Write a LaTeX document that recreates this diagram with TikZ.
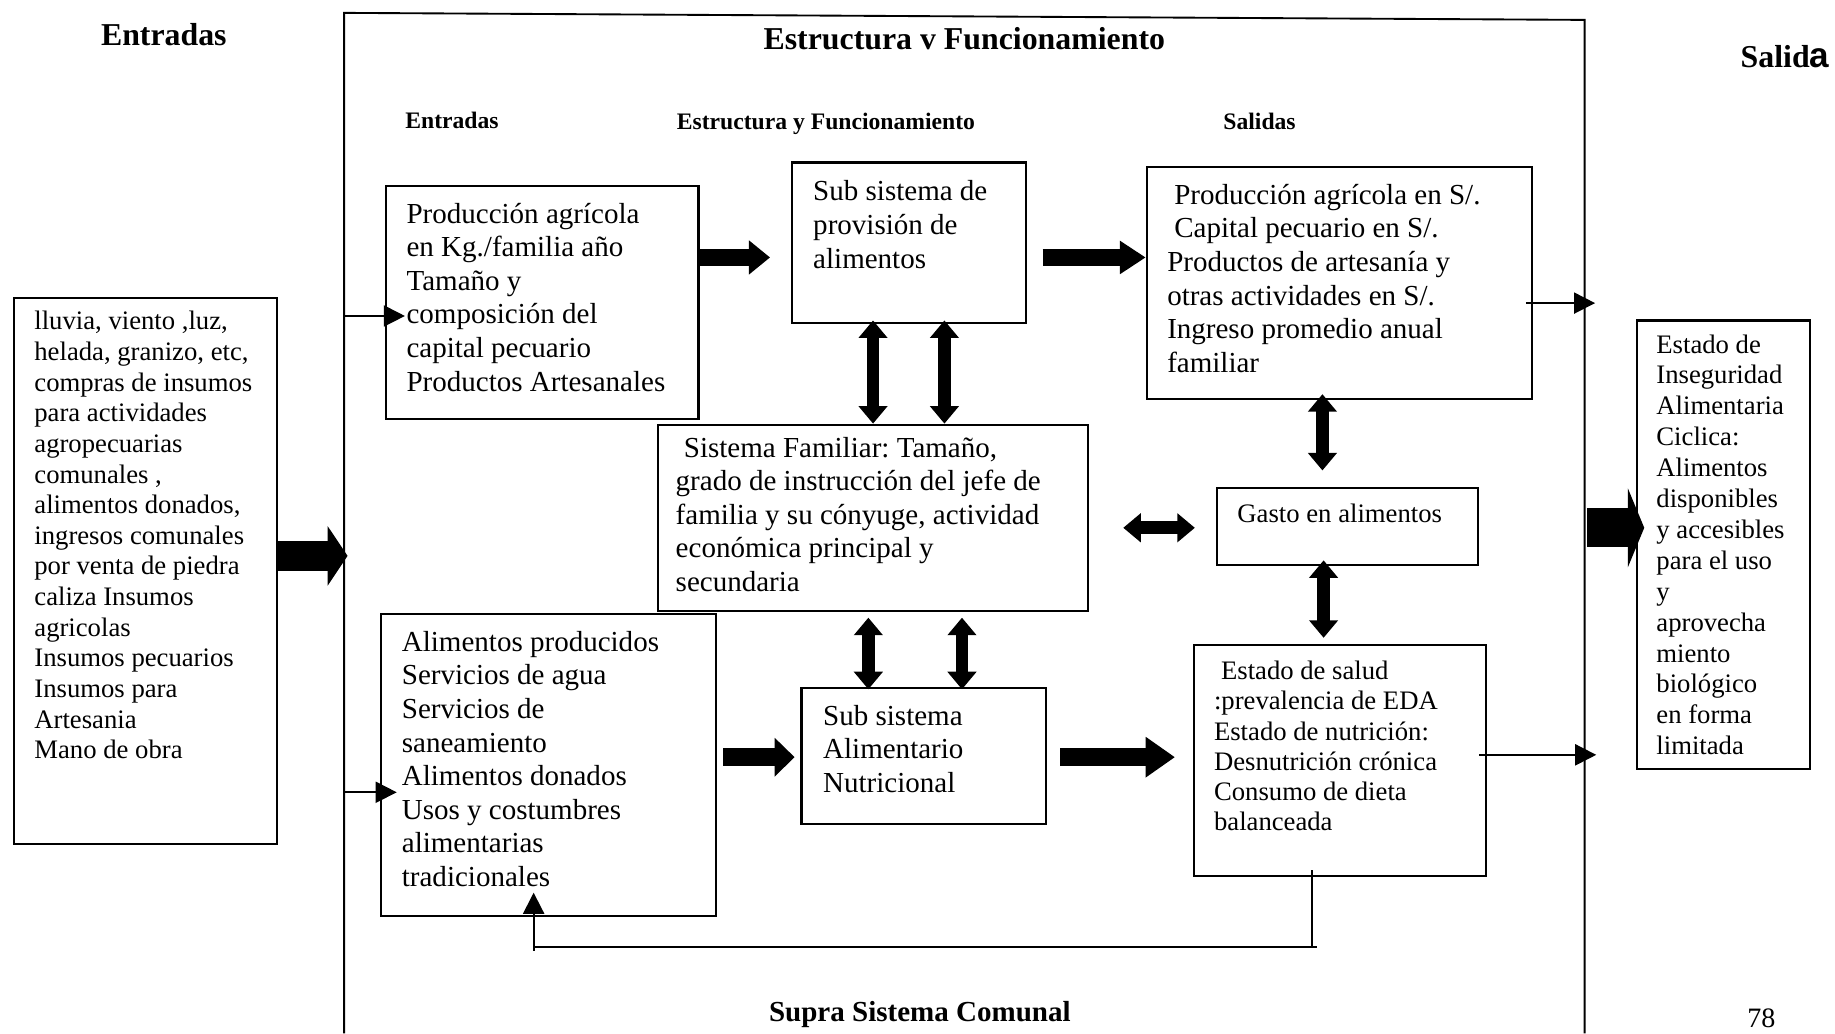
\documentclass[tikz,border=0pt]{standalone}
\usepackage{fontspec}
\setmainfont{Liberation Serif}
\newfontfamily\sansbold{Liberation Sans}
\usetikzlibrary{arrows.meta}
\frenchspacing
\begin{document}
\begin{tikzpicture}[x=0.5pt,y=-0.5pt,
  box/.style={draw, line width=0.9pt, inner sep=0pt, anchor=north west},
  txt/.style={inner sep=0pt, anchor=north west, align=left,
              font=\fontsize{12.4}{14.35}\selectfont},
  txts/.style={inner sep=0pt, anchor=north west, align=left,
               font=\fontsize{11.4}{#1}\selectfont},
  head/.style={inner sep=0pt, font=\bfseries\fontsize{13.6}{16}\selectfont},
  subhead/.style={inner sep=0pt, anchor=base west, font=\bfseries\fontsize{10.1}{12}\selectfont},
  frame/.style={line width=0.8pt},
  tarr/.style={line width=0.75pt, -{Triangle[length=9pt,width=9pt]}},
  blk/.style n args={3}{line width=#3, -{Triangle[length=#1,width=#2]}},
  dbl/.style={line width=5.5pt,
              {Triangle[length=7.5pt,width=12pt]}-{Triangle[length=7.5pt,width=12pt]}},
  fb/.style={line width=0.75pt}
]
\fill[white] (0,0) rectangle (1568,883);
\useasboundingbox (0,0) rectangle (1568,883);

% column headings
\node[head, anchor=base] (hin) at (140,39) {Entradas};
\node[head, anchor=base] (hest) at (824,42) {Estructura v Funcionamiento};
\node[head, anchor=base west] (hout) at (1487,58) {Salid{\sansbold\fontsize{15}{16}\selectfont a}};
\node[subhead] (sin) at (346,110) {Entradas};
\node[subhead] (sest) at (578,111) {Estructura y Funcionamiento};
\node[subhead] (sout) at (1045,111) {Salidas};
\node[head, anchor=base, font=\bfseries\fontsize{12.4}{15}\selectfont] (supra) at (786,873) {Supra Sistema Comunal};
\node[inner sep=0pt, anchor=base, font=\fontsize{12}{14}\selectfont] (pnum) at (1505,878) {78};

% system frame (open at the bottom)
\draw[frame] (294,883) -- (294,11) -- (1354,17) -- (1354,883);
\coordinate (fL) at (294,0);
\coordinate (fR) at (1354,0);

% boxes
\node[box, minimum width=112.5pt, minimum height=233pt] (src) at (11,254) {};
\node[box, minimum width=133.5pt, minimum height=99.5pt] (prod) at (329,158) {};
\node[box, minimum width=100pt, minimum height=68.5pt] (prov) at (676,138) {};
\node[box, minimum width=164.5pt, minimum height=99pt] (ingr) at (979,142) {};
\node[box, minimum width=184pt, minimum height=79.5pt] (fam) at (561,362) {};
\node[box, minimum width=111.5pt, minimum height=33pt] (gasto) at (1039,416) {};
\node[box, minimum width=143pt, minimum height=129pt] (alim) at (325,524) {};
\node[box, minimum width=104.5pt, minimum height=58pt] (subal) at (684,587) {};
\node[box, minimum width=125pt, minimum height=99pt] (estado) at (1019,550) {};
\node[box, minimum width=74pt, minimum height=191.5pt] (inseg) at (1398,273) {};

% box texts
\node[txts=13.1] (src-t) at (29,265.5) {lluvia, viento ,luz,\\ helada, granizo, etc,\\ compras de insumos\\ para actividades\\ agropecuarias\\ comunales ,\\ alimentos donados,\\ ingresos comunales\\ por venta de piedra\\ caliza Insumos\\ agricolas\\ Insumos pecuarios\\ Insumos para\\ Artesania\\ Mano de obra};
\node[txt] (prod-t) at (347,173) {Producción agrícola\\ en Kg./familia año\\ Tamaño y\\ composición del\\ capital pecuario\\ Productos Artesanales};
\node[txt] (prov-t) at (694.5,154) {Sub sistema de\\ provisión de\\ alimentos};
\node[txt] (ingr-t) at (997,157) {\hspace*{3pt}Producción agrícola en S/.\\ \hspace*{3pt}Capital pecuario en S/.\\ Productos de artesanía y\\ otras actividades en S/.\\ Ingreso promedio anual\\ familiar};
\node[txt] (fam-t) at (577,373) {\hspace*{3.5pt}Sistema Familiar: Tamaño,\\ grado de instrucción del jefe de\\ familia y su cónyuge, actividad\\ económica principal y\\ secundaria};
\node[txts=13] (gasto-t) at (1057,430.5) {Gasto en alimentos};
\node[txt] (alim-t) at (343,539) {Alimentos producidos\\ Servicios de agua\\ Servicios de\\ saneamiento\\ Alimentos donados\\ Usos y costumbres\\ alimentarias\\ tradicionales};
\node[txt] (subal-t) at (703,602) {Sub sistema\\ Alimentario\\ Nutricional};
\node[txts=12.9] (estado-t) at (1037,564.5) {\hspace*{3pt}Estado de salud\\ :prevalencia de EDA\\ Estado de nutrición:\\ Desnutrición crónica\\ Consumo de dieta\\ balanceada};
\node[txts=13.2] (inseg-t) at (1415,285.5) {Estado de\\ Inseguridad\\ Alimentaria\\ Ciclica:\\ Alimentos\\ disponibles\\ y accesibles\\ para el uso\\ y\\ aprovecha\\ miento\\ biológico\\ en forma\\ limitada};

% connector levels
\coordinate (yA) at (0,220);
\coordinate (yB) at (0,270);
\coordinate (yC) at (0,475);
\coordinate (yD) at (0,677);
\coordinate (yE) at (0,259);
\coordinate (yF) at (0,645);
\coordinate (yG) at (0,451);
\coordinate (yH) at (0,647);
\coordinate (yFB) at (0,809);
\coordinate (xD1) at (746,0);
\coordinate (xD2) at (807,0);
\coordinate (xD3) at (1130,0);
\coordinate (xD4) at (1131,0);
\coordinate (xD5) at (742,0);
\coordinate (xD6) at (822,0);
\coordinate (xFR) at (1121,0);
\coordinate (xFL) at (456,0);

% wide block arrows
\draw[blk={8.5pt}{25pt}{13pt}, shorten >=-1.5pt] (src.east |- yC) -- (fL |- yC);
\draw[blk={7pt}{33.5pt}{16.5pt}, shorten <=1pt, shorten >=-3.5pt] (fR |- yG) -- (inseg.west |- yG);

% medium block arrows
\draw[blk={9pt}{14pt}{7pt}, shorten >=9pt] (prod.east |- yA) -- (prov.west |- yA);
\draw[blk={11pt}{13.5pt}{7pt}, shorten <=6.5pt] (prov.east |- yA) -- (ingr.west |- yA);
\draw[blk={8.5pt}{16pt}{7.5pt}, shorten <=2.5pt, shorten >=2.5pt] (alim.east |- yH) -- (subal.west |- yH);
\draw[blk={12.5pt}{16.5pt}{7.5pt}, shorten <=5.5pt, shorten >=7.5pt] (subal.east |- yH) -- (estado.west |- yH);

% two-headed arrows
\draw[dbl, shorten <=-1.5pt] (xD1 |- prov.south) -- (xD1 |- fam.north);
\draw[dbl, shorten <=-1.5pt] (xD2 |- prov.south) -- (xD2 |- fam.north);
\draw[dbl, shorten <=-2.5pt, shorten >=7pt] (xD3 |- ingr.south) -- (xD3 |- gasto.north);
\draw[dbl, shorten <=14.5pt, shorten >=9pt] (fam.east |- yG) -- (gasto.west |- yG);
\draw[dbl, shorten <=-2.5pt, shorten >=2.5pt] (xD4 |- gasto.south) -- (xD4 |- estado.north);
\draw[dbl, shorten <=2.5pt, shorten >=-1pt] (xD5 |- fam.south) -- (xD5 |- subal.north);
\draw[dbl, shorten <=2.5pt, shorten >=-1pt] (xD6 |- fam.south) -- (xD6 |- subal.north);

% thin arrows
\draw[tarr, shorten >=-8.5pt] (fL |- yB) -- (prod.west |- yB);
\draw[tarr, shorten >=-7pt] (fL |- yD) -- (alim.west |- yD);
\draw[tarr, shorten <=-3pt, shorten >=-4.5pt] (ingr.east |- yE) -- (fR |- yE);
\draw[tarr, shorten <=-3.5pt, shorten >=-5pt] (estado.east |- yF) -- (fR |- yF);

% feedback loop from the health state back to the food inputs
\draw[fb] (xFR |- estado.south) ++(0,-6) -- (xFR |- yFB) -- ++(4,0);
\draw[fb] (xFR |- yFB) -- (xFL |- yFB) -- ++(0,4);
\draw[tarr, shorten >=-10.5pt] (xFL |- yFB) -- (xFL |- alim.south);
\end{tikzpicture}
\end{document}
